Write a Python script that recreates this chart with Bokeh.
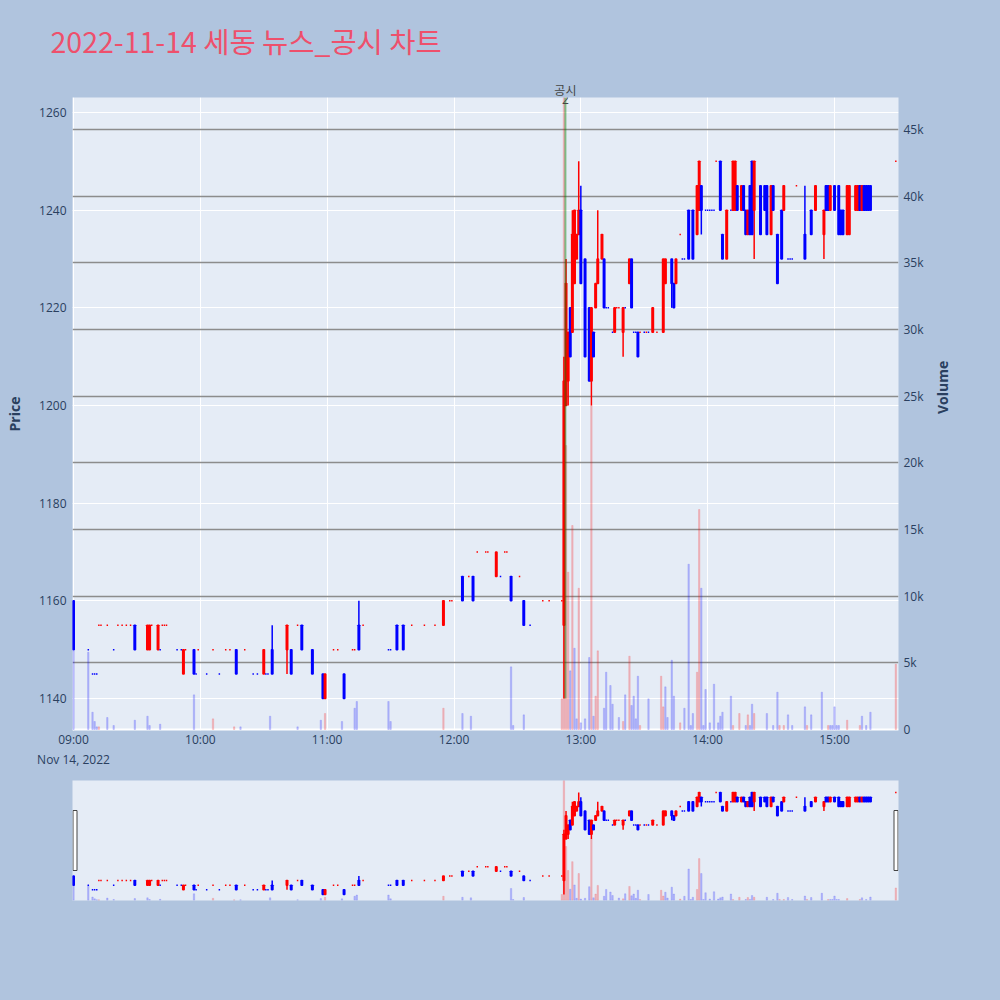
import math

from bokeh.embed import file_html
from bokeh.layouts import column
from bokeh.models import (ColumnDataSource, FixedTicker, GlobalInlineStyleSheet, Grid,
                          Label, LinearAxis, NumeralTickFormatter, Range1d, Span)
from bokeh.plotting import figure
from bokeh.resources import INLINE

title_text = "2022-11-14 세동 뉴스_공시 차트"
news_minute = 232.7          # disclosure time, minutes after 09:00
news_text = "공시"
news_count = "2"
date_text = "Nov 14, 2022"

tick_minutes = [0, 60, 120, 180, 240, 300, 360]
tick_labels = ["09:00", "10:00", "11:00", "12:00", "13:00", "14:00", "15:00"]
price_ticks = [1140, 1160, 1180, 1200, 1220, 1240, 1260]
vol_ticks = [0, 5000, 10000, 15000, 20000, 25000, 30000, 35000, 40000, 45000]

# one-minute candles (minutes after 09:00)
minutes = [0, 7, 9, 10, 11, 12, 13, 16, 19, 21,
           23, 25, 27, 29, 35, 36, 37, 40, 41, 42,
           43, 44, 49, 51, 52, 53, 57, 58, 59, 63,
           66, 69, 72, 74, 77, 81, 85, 87, 90, 91,
           92, 94, 101, 103, 106, 108, 113, 118, 119, 123,
           125, 128, 132, 133, 135, 137, 149, 150, 153, 156,
           160, 166, 171, 175, 178, 179, 184, 187, 189, 191,
           195, 196, 200, 202, 204, 205, 207, 211, 213, 216,
           222, 225, 231,
           232, 233, 234, 235, 236, 237, 238, 239, 240, 242,
           244, 245, 246, 247, 248, 250, 251, 252, 253, 255,
           256, 257, 258, 260, 261, 263, 264, 265, 266, 267,
           268, 270, 271, 272, 274, 276, 279, 280, 283, 284,
           285, 287, 288, 289, 291, 293, 295, 296, 297, 299,
           300, 301, 302, 303, 304, 306, 307, 309, 311, 312,
           313, 314, 316, 317, 318, 319, 320, 321, 322, 325,
           327, 328, 330, 331, 333, 335, 336, 338, 339, 340,
           342, 346, 349, 351, 355, 356, 357, 358, 360, 362,
           363, 364, 366, 367, 370, 371, 372, 373, 374, 375,
           376, 377, 389]
opens = [1160, 1150, 1145, 1145, 1145, 1155, 1155, 1155, 1150, 1155,
         1155, 1155, 1155, 1155, 1150, 1150, 1155, 1150, 1150, 1155,
         1155, 1155, 1150, 1150, 1145, 1150, 1150, 1145, 1150, 1145,
         1150, 1145, 1150, 1150, 1150, 1150, 1145, 1145, 1145, 1145,
         1145, 1150, 1150, 1150, 1155, 1155, 1150, 1145, 1140, 1150,
         1150, 1145, 1150, 1150, 1155, 1155, 1150, 1150, 1155, 1155,
         1155, 1155, 1155, 1155, 1160, 1160, 1165, 1165, 1165, 1170,
         1170, 1170, 1165, 1165, 1170, 1170, 1165, 1165, 1160, 1155,
         1160, 1160, 1160,
         1155, 1200, 1205, 1220, 1215, 1225, 1230, 1235, 1240, 1230,
         1220, 1205, 1215, 1220, 1225, 1230, 1230, 1220, 1220, 1215,
         1215, 1220, 1220, 1215, 1220, 1225, 1230, 1215, 1215, 1215,
         1215, 1215, 1215, 1215, 1215, 1215, 1215, 1225, 1230, 1225,
         1225, 1235, 1230, 1230, 1240, 1240, 1235, 1240, 1245, 1240,
         1240, 1240, 1240, 1240, 1250, 1250, 1235, 1230, 1240, 1240,
         1240, 1245, 1240, 1245, 1240, 1235, 1245, 1250, 1240, 1245,
         1245, 1245, 1235, 1245, 1235, 1240, 1240, 1230, 1230, 1230,
         1245, 1235, 1240, 1240, 1235, 1245, 1245, 1240, 1245, 1245,
         1240, 1240, 1235, 1235, 1240, 1240, 1245, 1240, 1245, 1245,
         1245, 1245, 1250]
highs = [1160, 1150, 1145, 1145, 1145, 1155, 1155, 1155, 1150, 1155,
         1155, 1155, 1155, 1155, 1155, 1155, 1155, 1155, 1150, 1155,
         1155, 1155, 1150, 1150, 1150, 1150, 1150, 1145, 1150, 1145,
         1150, 1145, 1150, 1150, 1150, 1150, 1145, 1145, 1150, 1145,
         1145, 1155, 1155, 1150, 1155, 1155, 1150, 1145, 1145, 1150,
         1150, 1145, 1150, 1150, 1160, 1155, 1150, 1150, 1155, 1155,
         1155, 1155, 1155, 1160, 1160, 1160, 1165, 1165, 1165, 1170,
         1170, 1170, 1170, 1165, 1170, 1170, 1165, 1165, 1160, 1155,
         1160, 1160, 1160,
         1210, 1230, 1215, 1220, 1240, 1240, 1235, 1250, 1245, 1230,
         1220, 1220, 1215, 1225, 1240, 1235, 1230, 1220, 1220, 1215,
         1220, 1220, 1220, 1220, 1220, 1230, 1230, 1215, 1215, 1215,
         1215, 1215, 1215, 1215, 1220, 1215, 1230, 1230, 1230, 1225,
         1230, 1235, 1230, 1230, 1240, 1240, 1245, 1250, 1245, 1240,
         1240, 1240, 1240, 1240, 1250, 1250, 1235, 1240, 1240, 1250,
         1250, 1245, 1245, 1245, 1240, 1240, 1245, 1250, 1250, 1245,
         1245, 1245, 1245, 1245, 1235, 1240, 1245, 1230, 1230, 1230,
         1245, 1245, 1240, 1245, 1240, 1245, 1245, 1245, 1245, 1245,
         1240, 1240, 1245, 1245, 1245, 1245, 1245, 1245, 1245, 1245,
         1245, 1245, 1250]
lows = [1150, 1150, 1145, 1145, 1145, 1155, 1155, 1155, 1150, 1155,
        1155, 1155, 1155, 1150, 1150, 1150, 1155, 1150, 1150, 1155,
        1155, 1155, 1150, 1150, 1145, 1150, 1145, 1145, 1150, 1145,
        1150, 1145, 1150, 1150, 1145, 1150, 1145, 1145, 1145, 1145,
        1145, 1145, 1145, 1145, 1155, 1150, 1145, 1140, 1140, 1150,
        1150, 1140, 1150, 1150, 1150, 1155, 1150, 1150, 1150, 1150,
        1155, 1155, 1155, 1155, 1160, 1160, 1160, 1165, 1160, 1170,
        1170, 1170, 1165, 1165, 1170, 1170, 1160, 1165, 1155, 1155,
        1160, 1160, 1160,
        1140, 1200, 1200, 1210, 1215, 1225, 1230, 1235, 1225, 1210,
        1205, 1200, 1210, 1220, 1225, 1230, 1220, 1220, 1220, 1215,
        1215, 1220, 1220, 1210, 1220, 1225, 1220, 1215, 1215, 1210,
        1215, 1215, 1215, 1215, 1215, 1215, 1215, 1225, 1220, 1220,
        1225, 1235, 1230, 1230, 1230, 1230, 1235, 1240, 1235, 1240,
        1240, 1240, 1240, 1240, 1250, 1240, 1230, 1230, 1240, 1240,
        1240, 1240, 1240, 1240, 1235, 1235, 1235, 1235, 1230, 1235,
        1240, 1235, 1235, 1240, 1225, 1230, 1240, 1230, 1230, 1230,
        1245, 1230, 1235, 1240, 1230, 1240, 1240, 1240, 1240, 1235,
        1235, 1235, 1235, 1235, 1240, 1240, 1240, 1240, 1240, 1240,
        1240, 1240, 1250]
closes = [1150, 1150, 1145, 1145, 1145, 1155, 1155, 1155, 1150, 1155,
          1155, 1155, 1155, 1150, 1155, 1155, 1155, 1155, 1150, 1155,
          1155, 1155, 1150, 1150, 1150, 1150, 1145, 1145, 1150, 1145,
          1150, 1145, 1150, 1150, 1145, 1150, 1145, 1145, 1150, 1145,
          1145, 1145, 1155, 1145, 1155, 1150, 1145, 1140, 1145, 1150,
          1150, 1140, 1150, 1150, 1150, 1155, 1150, 1150, 1150, 1150,
          1155, 1155, 1155, 1160, 1160, 1160, 1160, 1165, 1160, 1170,
          1170, 1170, 1170, 1165, 1170, 1170, 1160, 1165, 1155, 1155,
          1160, 1160, 1160,
          1205, 1225, 1215, 1210, 1235, 1240, 1235, 1240, 1225, 1210,
          1205, 1220, 1210, 1225, 1230, 1235, 1220, 1220, 1220, 1215,
          1220, 1220, 1220, 1220, 1220, 1230, 1220, 1215, 1215, 1210,
          1215, 1215, 1215, 1215, 1220, 1215, 1230, 1230, 1225, 1220,
          1230, 1235, 1230, 1230, 1230, 1230, 1245, 1250, 1240, 1240,
          1240, 1240, 1240, 1240, 1250, 1240, 1230, 1240, 1240, 1250,
          1250, 1240, 1245, 1240, 1235, 1240, 1235, 1235, 1250, 1235,
          1240, 1235, 1245, 1240, 1225, 1230, 1245, 1230, 1230, 1230,
          1245, 1230, 1235, 1245, 1240, 1240, 1240, 1245, 1240, 1235,
          1235, 1235, 1245, 1245, 1245, 1245, 1240, 1245, 1240, 1240,
          1240, 1240, 1250]
# 1 = drawn red (up), 0 = drawn blue (down); needed for the flat candles
rising = [0, 0, 0, 0, 0, 1, 1, 1, 0, 1,
          1, 1, 1, 0, 1, 1, 1, 1, 0, 1,
          1, 1, 0, 0, 1, 1, 0, 0, 1, 0,
          1, 0, 1, 1, 0, 1, 0, 0, 1, 0,
          0, 0, 1, 0, 1, 0, 0, 0, 1, 1,
          1, 0, 1, 1, 0, 1, 0, 0, 0, 0,
          1, 1, 1, 1, 1, 1, 0, 1, 0, 1,
          1, 1, 1, 0, 1, 1, 0, 1, 0, 0,
          1, 1, 1,
          1, 1, 1, 0, 1, 1, 1, 1, 0, 0,
          0, 1, 0, 1, 1, 1, 0, 0, 0, 0,
          1, 1, 1, 1, 0, 1, 0, 0, 0, 0,
          1, 0, 1, 0, 1, 1, 1, 1, 0, 0,
          1, 1, 0, 0, 0, 0, 1, 1, 0, 0,
          0, 0, 0, 0, 1, 0, 0, 1, 0, 1,
          1, 0, 1, 0, 0, 1, 0, 0, 1, 0,
          0, 0, 1, 0, 0, 0, 1, 0, 0, 0,
          1, 0, 0, 1, 1, 0, 0, 1, 0, 0,
          0, 0, 1, 1, 1, 1, 0, 1, 0, 0,
          0, 0, 1]

# volume bars
vol_minutes = [0, 7, 9, 10, 11, 12, 16, 19, 29, 35,
               36, 41, 57, 66, 76, 79, 93, 106, 117, 119,
               127, 133, 134, 149, 150, 175, 184, 188, 207, 208,
               213, 231, 232, 233, 234, 235, 236, 237, 238, 239,
               240, 242, 244, 245, 246, 247, 248, 251, 252, 254,
               255, 258, 260, 261, 263, 264, 265, 266, 267, 268,
               272, 278, 279, 280, 281, 283, 284, 287, 289, 291,
               292, 293, 295, 296, 297, 298, 299, 301, 303, 305,
               306, 307, 311, 312, 315, 318, 319, 320, 321, 322,
               328, 331, 333, 334, 336, 338, 340, 346, 347, 349,
               354, 357, 358, 359, 360, 361, 362, 366, 372, 373,
               375, 377, 389]
volumes = [5900, 5800, 1300, 600, 200, 200, 900, 300, 700, 1000,
           300, 400, 2600, 800, 200, 200, 1000, 200, 700, 1200,
           600, 1600, 2100, 2100, 600, 1600, 1200, 1000, 4700, 300,
           1100, 2300, 52000, 21300, 11800, 4400, 15300, 6100, 800, 10600,
           500, 800, 5400, 24300, 1000, 2500, 5900, 1600, 4300, 3300,
           1900, 900, 600, 2600, 5500, 1800, 2500, 800, 4000, 300,
           2300, 4000, 1700, 3200, 900, 5200, 2500, 500, 1600, 12400,
           300, 1200, 4300, 16500, 10600, 300, 3000, 500, 3400, 500,
           1000, 1300, 2500, 300, 1200, 300, 1100, 300, 1900, 1200,
           1200, 300, 2800, 300, 300, 1100, 300, 1700, 300, 1100,
           2800, 300, 300, 300, 1700, 300, 300, 700, 300, 1000,
           300, 1300, 4900]
vol_rising = [0, 0, 0, 0, 0, 1, 0, 0, 0, 0,
              0, 0, 0, 1, 1, 0, 0, 0, 0, 1,
              0, 0, 0, 0, 0, 1, 0, 0, 0, 0,
              0, 1, 1, 1, 1, 0, 1, 0, 0, 1,
              0, 0, 0, 1, 0, 1, 1, 0, 0, 0,
              0, 0, 1, 0, 1, 0, 0, 0, 0, 1,
              0, 1, 1, 0, 0, 0, 0, 1, 0, 0,
              0, 0, 1, 1, 0, 0, 0, 0, 0, 0,
              0, 0, 0, 1, 1, 0, 1, 0, 0, 1,
              0, 0, 0, 1, 1, 0, 0, 0, 1, 0,
              0, 1, 0, 0, 0, 0, 0, 1, 1, 0,
              0, 0, 1]

UP, DOWN = "#FF0000", "#0000FF"
PAGE_BG, PLOT_BG, INK = "#B0C4DE", "#E5ECF6", "#2a3f5f"


# page pixel -> data, used only for placing the frame and the texts
def x_at(px):
    return (px - 73) / 2.1139


def price_at(py):
    return 1260 - (py - 112) / 4.8833


def vol_at(py):
    return (729 - py) * 75.0


def plain_axis(ax, size="12px", font="Open Sans"):
    ax.axis_line_color = None
    ax.major_tick_line_color = None
    ax.minor_tick_line_color = None
    ax.major_tick_out = 0
    ax.major_tick_in = 0
    ax.minor_tick_out = 0
    ax.minor_tick_in = 0
    ax.major_label_text_color = INK
    ax.major_label_text_font = font
    ax.major_label_text_font_size = size
    ax.axis_label_text_color = INK
    ax.axis_label_text_font = "Open Sans"
    ax.axis_label_text_font_size = "14px"
    ax.axis_label_text_font_style = "bold"


candles = ColumnDataSource(dict(
    t=minutes, h=highs, l=lows,
    top=[max(o, c) for o, c in zip(opens, closes)],
    bottom=[min(o, c) for o, c in zip(opens, closes)],
    color=[UP if r else DOWN for r in rising],
))
vols = ColumnDataSource(dict(
    t=vol_minutes, v=volumes,
    color=[UP if r else DOWN for r in vol_rising],
))


def draw_series(fig):
    fig.vbar(x="t", width=0.7, top="v", bottom=0, source=vols, y_range_name="vol",
             fill_color="color", fill_alpha=0.22, line_color="color", line_alpha=0.12)
    fig.segment(x0="t", y0="h", x1="t", y1="l", source=candles,
                line_color="color", line_width=1.5)
    fig.vbar(x="t", width=0.7, top="top", bottom="bottom", source=candles,
             fill_color="color", line_color="color", line_width=1.5)


# ---- main chart
p = figure(width=1000, height=770, output_backend="svg", toolbar_location=None,
           x_range=Range1d(x_at(72), x_at(898)),
           y_range=Range1d(price_at(730), price_at(97)),
           min_border_left=72, min_border_right=102, min_border_top=97, min_border_bottom=40,
           background_fill_color=PLOT_BG, border_fill_color=PAGE_BG, outline_line_color=None)
p.extra_y_ranges = {"vol": Range1d(vol_at(730), vol_at(97))}

price_axis = p.yaxis[0]
time_axis = p.xaxis[0]
plain_axis(price_axis)
plain_axis(time_axis)
price_axis.ticker = FixedTicker(ticks=price_ticks)
price_axis.axis_label = "Price"
price_axis.major_label_standoff = 6
price_axis.axis_label_standoff = 12
time_axis.ticker = FixedTicker(ticks=tick_minutes)
time_axis.major_label_overrides = dict(zip(tick_minutes, tick_labels))
time_axis.major_label_standoff = 0

vol_axis = LinearAxis(y_range_name="vol", ticker=FixedTicker(ticks=vol_ticks),
                      formatter=NumeralTickFormatter(format="0a"), axis_label="Volume")
plain_axis(vol_axis)
vol_axis.major_label_standoff = 5
vol_axis.axis_label_standoff = 16
try:
    vol_axis.axis_label_orientation = math.pi / 2
except AttributeError:
    pass
p.add_layout(vol_axis, "right")

# date under the first time tick
date_axis = LinearAxis(ticker=FixedTicker(ticks=[0]), major_label_overrides={0: date_text})
plain_axis(date_axis)
date_axis.major_label_standoff = 0
p.add_layout(date_axis, "below")

# disclosure caption above the plot area
news_axis = LinearAxis(ticker=FixedTicker(ticks=[news_minute]),
                       major_label_overrides={news_minute: news_text})
plain_axis(news_axis, font="Noto Sans CJK KR")
news_axis.major_label_text_color = "#444444"
news_axis.major_label_standoff = 0
p.add_layout(news_axis, "above")

p.title.text = title_text
p.title.align = "left"
p.title.offset = 50 - 72
p.title.standoff = 34
p.title.text_font = "Noto Sans CJK KR"
p.title.text_font_size = "28.5px"
p.title.text_font_style = "normal"
p.title.text_color = "#EE506C"

p.xgrid.ticker = FixedTicker(ticks=tick_minutes)
p.ygrid.ticker = FixedTicker(ticks=price_ticks)
p.xgrid.grid_line_color = "white"
p.ygrid.grid_line_color = "white"
p.add_layout(Grid(dimension=1, ticker=FixedTicker(ticks=vol_ticks[1:]), y_range_name="vol",
                  grid_line_color="#8c8c8c", grid_line_width=1.5))
p.add_layout(Span(location=0, dimension="width", y_range_name="vol",
                  line_color="white", line_width=2, level="underlay"))

draw_series(p)

# disclosure marker
p.segment(x0=[news_minute], y0=[min(lows)], x1=[news_minute], y1=[price_at(97)],
          line_color="green", line_alpha=0.45, line_width=2)
p.add_layout(Label(x=news_minute, y=price_at(94), text=news_count, text_align="center",
                   text_baseline="top", text_font="Open Sans",
                   text_font_size="12px", text_color="#444444"))

# ---- range slider below (its frame lines up with the main one)
s = figure(width=1000, height=230, output_backend="svg", toolbar_location=None,
           x_axis_type=None, y_axis_type=None,
           x_range=Range1d(x_at(72), x_at(898)),
           y_range=Range1d(price_at(730), price_at(97)),
           min_border_left=72, min_border_right=102, min_border_top=10, min_border_bottom=100,
           background_fill_color=PLOT_BG, border_fill_color=PAGE_BG, outline_line_color=None)
s.extra_y_ranges = {"vol": Range1d(vol_at(730), vol_at(97))}
draw_series(s)

# slider handles, 810..870 px of a 780..900 px strip
lo, hi = s.y_range.start, s.y_range.end
h_bot = lo + (hi - lo) * (900 - 870) / 120
h_top = lo + (hi - lo) * (900 - 810) / 120
s.quad(left=[x_at(72.5), x_at(893.5)], right=[x_at(76.5), x_at(897.5)],
       bottom=[h_bot, h_bot], top=[h_top, h_top],
       fill_color="white", line_color="#444444", line_width=1)

page = column(p, s, stylesheets=[GlobalInlineStyleSheet(
    css="html, body { margin: 0; padding: 0; background: #B0C4DE; overflow: hidden; }")])

open("out.html", "w").write(file_html(page, INLINE))
